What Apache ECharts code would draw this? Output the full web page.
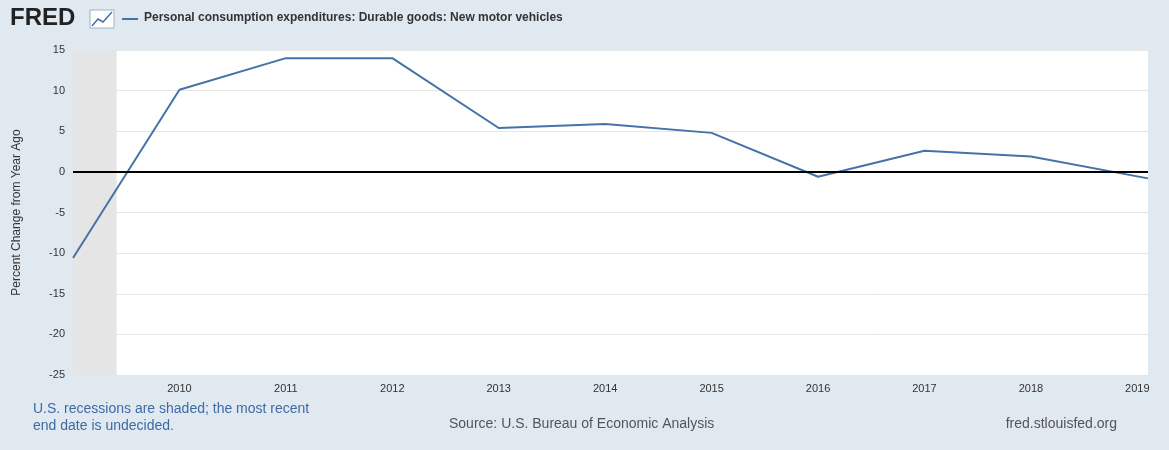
<!DOCTYPE html>
<html lang="en">
<head>
    <meta charset="UTF-8">
    <title>FRED PCE New motor vehicles</title>
    <script src="https://cdn.jsdelivr.net/npm/echarts@6/dist/echarts.min.js"></script>
    <style>body{margin:0;background:#e1e9f0;}</style>
</head>
<body>
    <div id="main" style="width:1169px;height:450px;"></div>
    <script>
        // year positions and percent change values
        var years = [2009, 2010, 2011, 2012, 2013, 2014, 2015, 2016, 2017, 2018, 2019.1];
        var values = [-10.6, 10.1, 14.0, 14.0, 5.4, 5.9, 4.8, -0.6, 2.6, 1.9, -0.8];
        var recession = [2009, 2009.41];

        var myChart = echarts.init(document.getElementById('main'));
        var lineData = years.map(function (y, i) { return [y, values[i]]; });

        myChart.setOption({
            backgroundColor: '#e1e9f0',
            textStyle: { fontFamily: 'Arial, Liberation Sans, sans-serif' },
            graphic: [
                { type: 'text', left: 10, top: 6, style: { text: 'FRED', font: 'bold 24px Liberation Sans', fill: '#222' } },
                { type: 'rect', shape: { x: 90, y: 10, width: 24, height: 18 }, style: { fill: '#fff', stroke: '#9fb0c6' } },
                { type: 'polyline', shape: { points: [[92, 26], [98, 19], [103, 22], [112, 12]] }, style: { stroke: '#4572a7', lineWidth: 1.5, fill: null } },
                { type: 'line', shape: { x1: 122, y1: 19, x2: 138, y2: 19 }, style: { stroke: '#4572a7', lineWidth: 2 } },
                { type: 'text', left: 144, top: 12, style: { text: 'Personal consumption expenditures: Durable goods: New motor vehicles', font: 'bold 12px Liberation Sans', fill: '#333' } },
                { type: 'text', left: 33, top: 401, style: { text: 'U.S. recessions are shaded; the most recent\nend date is undecided.', font: '14px Liberation Sans', fill: '#3e6aa5', lineHeight: 17 } },
                { type: 'text', left: 449, top: 417, style: { text: 'Source: U.S. Bureau of Economic Analysis', font: '14px Liberation Sans', fill: '#555' } },
                { type: 'text', right: 52, top: 417, style: { text: 'fred.stlouisfed.org', font: '14px Liberation Sans', fill: '#555' } }
            ],
            grid: { left: 73, right: 21, top: 50, bottom: 75, backgroundColor: '#fff', show: true, borderWidth: 0 },
            xAxis: {
                type: 'value', min: 2009, max: 2019.1, interval: 1,
                axisLine: { show: false }, axisTick: { show: false }, splitLine: { show: false },
                axisLabel: { color: '#333', fontSize: 11, formatter: function (v) { return v === 2009 ? '' : String(v); } }
            },
            yAxis: {
                type: 'value', min: -25, max: 15, interval: 5,
                name: 'Percent Change from Year Ago', nameLocation: 'middle', nameGap: 50,
                nameTextStyle: { color: '#333', fontSize: 12 },
                axisLine: { show: false }, axisTick: { show: false },
                axisLabel: { color: '#333', fontSize: 11 },
                splitLine: { lineStyle: { color: '#e6e6e6' } }
            },
            series: [{
                type: 'line', data: lineData, symbol: 'none',
                lineStyle: { color: '#4572a7', width: 2 },
                markArea: { silent: true, itemStyle: { color: '#e5e5e5' }, data: [[{ xAxis: recession[0] }, { xAxis: recession[1] }]] },
                markLine: { silent: true, symbol: 'none', label: { show: false }, lineStyle: { color: '#000', width: 2, type: 'solid' }, data: [{ yAxis: 0 }] },
                z: 3
            }]
        });
    </script>
</body>
</html>
